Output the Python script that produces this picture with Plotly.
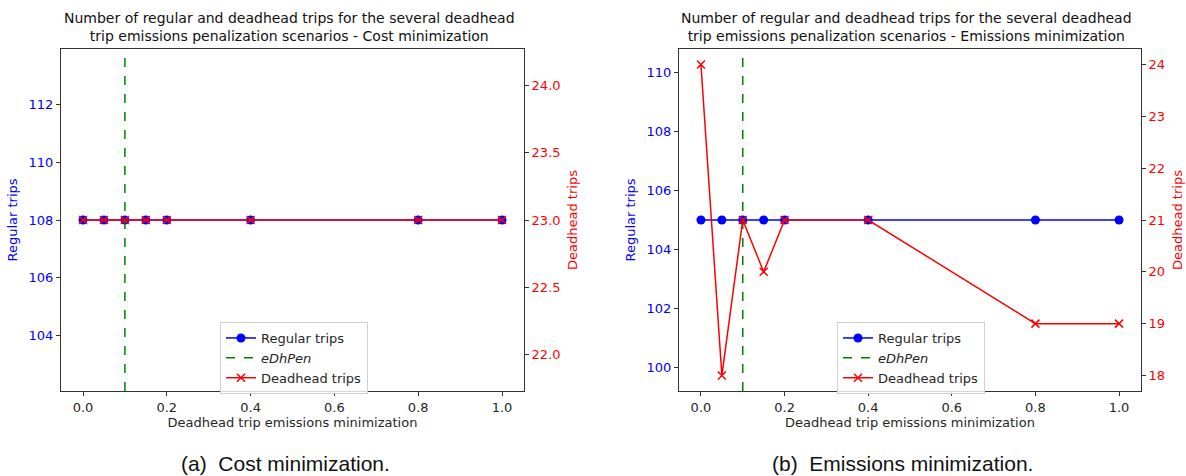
import plotly.graph_objects as go

# ---- data ----
penalties = [0.0, 0.05, 0.1, 0.15, 0.2, 0.4, 0.8, 1.0]
cost_regular = [108, 108, 108, 108, 108, 108, 108, 108]
cost_deadhead = [23, 23, 23, 23, 23, 23, 23, 23]
emis_regular = [105, 105, 105, 105, 105, 105, 105, 105]
emis_deadhead = [24, 18, 21, 20, 21, 21, 19, 19]
edhpen = 0.1

title_a = "Number of regular and deadhead trips for the several deadhead<br>trip emissions penalization scenarios - Cost minimization"
title_b = "Number of regular and deadhead trips for the several deadhead<br>trip emissions penalization scenarios - Emissions minimization"
caption_a = "(a)  Cost minimization."
caption_b = "(b)  Emissions minimization."
xlabel = "Deadhead trip emissions minimization"

# axis ranges (matplotlib-style auto margins)
rng_a_left = [102.06, 113.94]
rng_a_right = [21.73, 24.27]
rng_b_left = [99.22, 110.78]
rng_b_right = [17.7, 24.3]

BLUE = "#0000ff"
RED = "#ff0000"
GREEN = "#008000"
FONT = "DejaVu Sans"
TXT = "#262626"
FS = 13

fig = go.Figure()

def add_panel(xa, yl, yr, reg, dh, yrange_left, legend):
    fig.add_trace(go.Scatter(
        x=penalties, y=reg, xaxis=xa, yaxis=yl, mode="lines+markers",
        name="Regular trips", legend=legend,
        line=dict(color=BLUE, width=1.5),
        marker=dict(symbol="circle", size=9, color=BLUE)))
    fig.add_trace(go.Scatter(
        x=[edhpen, edhpen], y=yrange_left, xaxis=xa, yaxis=yl, mode="lines",
        name="<i>eDhPen</i>", legend=legend,
        line=dict(color=GREEN, width=1.5, dash="dash")))
    fig.add_trace(go.Scatter(
        x=penalties, y=dh, xaxis=xa, yaxis=yr, mode="lines+markers",
        name="Deadhead trips", legend=legend,
        line=dict(color=RED, width=1.5),
        marker=dict(symbol="x-thin-open", size=8, color=RED,
                    line=dict(color=RED, width=1.5))))

add_panel("x", "y", "y2", cost_regular, cost_deadhead, rng_a_left, "legend")
add_panel("x2", "y3", "y4", emis_regular, emis_deadhead, rng_b_left, "legend2")

axis_common = dict(showline=True, linecolor="#333333", linewidth=1,
                   ticks="outside", ticklen=4, tickwidth=1, tickcolor="#333333",
                   showgrid=False, zeroline=False, automargin=False)
tickfont = dict(family=FONT, size=FS, color=TXT)

xd_a = [61 / 1186, 524 / 1186]
xd_b = [679 / 1186, 1141 / 1186]

def ytitle(text, color):
    return dict(text=text, font=dict(family=FONT, size=FS, color=color), standoff=8)

def xtitle():
    return dict(text=xlabel, font=dict(family=FONT, size=FS, color=TXT), standoff=3)

legend_common = dict(xanchor="left", yanchor="top",
                     bgcolor="rgba(255,255,255,0.8)", bordercolor="#d0d0d0", borderwidth=1,
                     font=dict(family=FONT, size=FS, color=TXT),
                     tracegroupgap=0, itemwidth=30)

fig.update_layout(
    width=1186, height=476,
    margin=dict(l=0, r=0, t=49, b=85, autoexpand=False),
    plot_bgcolor="white", paper_bgcolor="white",
    font=dict(family=FONT, size=FS, color=TXT),
    xaxis=dict(domain=xd_a, range=[-0.0525, 1.0525], anchor="y", mirror=True,
               tickvals=[0, 0.2, 0.4, 0.6, 0.8, 1.0], tickformat=".1f",
               tickfont=tickfont, title=xtitle(), **axis_common),
    yaxis=dict(domain=[0, 1], range=rng_a_left, anchor="x",
               tickvals=[104, 106, 108, 110, 112],
               tickfont=dict(family=FONT, size=FS, color=BLUE),
               title=ytitle("Regular trips", BLUE), **axis_common),
    yaxis2=dict(range=rng_a_right, anchor="x", overlaying="y", side="right",
                tickvals=[22.0, 22.5, 23.0, 23.5, 24.0], tickformat=".1f",
                tickfont=dict(family=FONT, size=FS, color=RED),
                title=ytitle("Deadhead trips", RED), **axis_common),
    xaxis2=dict(domain=xd_b, range=[-0.0525, 1.0525], anchor="y3", mirror=True,
                tickvals=[0, 0.2, 0.4, 0.6, 0.8, 1.0], tickformat=".1f",
                tickfont=tickfont, title=xtitle(), **axis_common),
    yaxis3=dict(domain=[0, 1], range=rng_b_left, anchor="x2",
                tickvals=[100, 102, 104, 106, 108, 110],
                tickfont=dict(family=FONT, size=FS, color=BLUE),
                title=ytitle("Regular trips", BLUE), **axis_common),
    yaxis4=dict(range=rng_b_right, anchor="x2", overlaying="y3", side="right",
                tickvals=[18, 19, 20, 21, 22, 23, 24],
                tickfont=dict(family=FONT, size=FS, color=RED),
                title=ytitle("Deadhead trips", RED), **axis_common),
    legend=dict(x=(220 - 61) / (524 - 61) * (xd_a[1] - xd_a[0]) + xd_a[0],
                y=(391 - 322) / 342, **legend_common),
    legend2=dict(x=(837 - 679) / (1141 - 679) * (xd_b[1] - xd_b[0]) + xd_b[0],
                 y=(391 - 322) / 342, **legend_common),
    showlegend=True,
)

def py(pixel_y):
    return (391 - pixel_y) / 342

annots = []
for cx_px, title in ((289, title_a), (906, title_b)):
    annots.append(dict(text=title, x=cx_px / 1186, y=py(27), xref="paper", yref="paper",
                       showarrow=False, xanchor="center", yanchor="middle",
                       font=dict(family=FONT, size=14, color="#111111")))
for cx_px, cap in ((285, caption_a), (902, caption_b)):
    annots.append(dict(text=cap, x=cx_px / 1186, y=py(463), xref="paper", yref="paper",
                       showarrow=False, xanchor="center", yanchor="middle",
                       font=dict(family="Liberation Sans", size=21, color="#111111")))
fig.update_layout(annotations=annots)

fig.write_html("out.html", config={"displayModeBar": False},
               post_script="document.body.style.margin='0';document.body.style.padding='0';")
